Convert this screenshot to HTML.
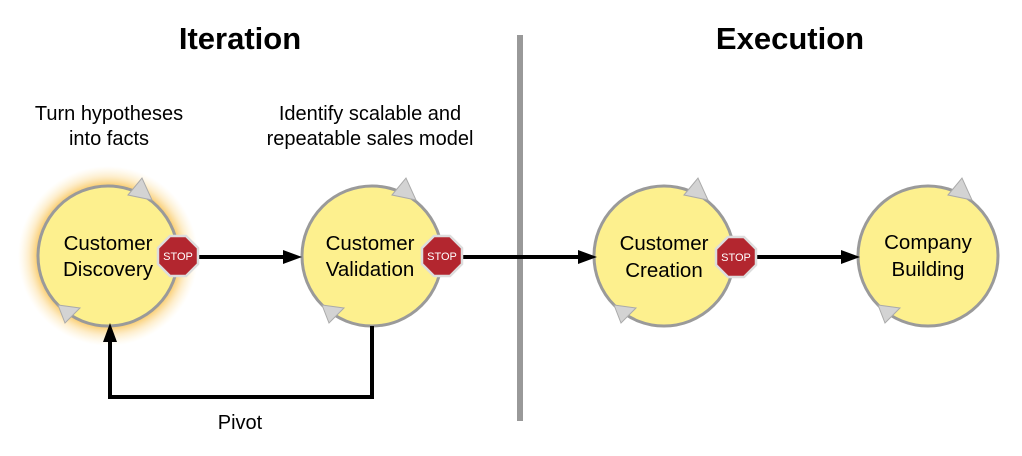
<!DOCTYPE html>
<html><head><meta charset="utf-8"><style>
html,body{margin:0;padding:0;background:#fff;width:1022px;height:456px;overflow:hidden}
text{font-family:"Liberation Sans",Arial,sans-serif}
</style></head><body>
<svg width="1022" height="456" viewBox="0 0 1022 456" xmlns="http://www.w3.org/2000/svg">
<defs>
<radialGradient id="glow" cx="0.5" cy="0.5" r="0.5">
<stop offset="0.76" stop-color="#f7b733" stop-opacity="0.85"/>
<stop offset="0.88" stop-color="#fbd27a" stop-opacity="0.4"/>
<stop offset="1" stop-color="#ffe8b0" stop-opacity="0"/>
</radialGradient>
<symbol id="node" overflow="visible">
<circle cx="0" cy="0" r="70" fill="#fdf08e" stroke="#9a9a9a" stroke-width="3"/>
<polygon points="20,-61 34,-78 44,-56" fill="#d3d3d3" stroke="#aaa" stroke-width="1"/>
<polygon points="-50,49 -43,67 -28,52" fill="#d3d3d3" stroke="#aaa" stroke-width="1"/>
</symbol>
<symbol id="stop" overflow="visible">
<polygon points="-8,-20 8,-20 20,-8 20,8 8,20 -8,20 -20,8 -20,-8" fill="#b3262f" stroke="#ddd" stroke-width="2.5"/>
<text x="0" y="4" font-size="11" fill="#fff" text-anchor="middle">STOP</text>
</symbol>
</defs>

<text x="240" y="49" font-size="31" font-weight="bold" text-anchor="middle">Iteration</text>
<text x="790" y="49" font-size="31" font-weight="bold" text-anchor="middle">Execution</text>
<text x="109" y="120" font-size="20" text-anchor="middle">Turn hypotheses</text>
<text x="109" y="145" font-size="20" text-anchor="middle">into facts</text>
<text x="370" y="120" font-size="20" text-anchor="middle">Identify scalable and</text>
<text x="370" y="145" font-size="20" text-anchor="middle">repeatable sales model</text>

<rect x="517" y="35" width="6" height="386" fill="#999"/>

<circle cx="108" cy="256" r="90" fill="url(#glow)"/>
<use href="#node" x="108" y="256"/>
<use href="#node" x="372" y="256"/>
<use href="#node" x="664" y="256"/>
<use href="#node" x="928" y="256"/>

<g stroke="#000" stroke-width="4" fill="none">
<line x1="198" y1="257" x2="285" y2="257"/>
<line x1="462" y1="257" x2="580" y2="257"/>
<line x1="756" y1="257" x2="843" y2="257"/>
<polyline points="372,326 372,397 110,397 110,340"/>
</g>
<polygon points="283,250 302,257 283,264" fill="#000"/>
<polygon points="578,250 597,257 578,264" fill="#000"/>
<polygon points="841,250 860,257 841,264" fill="#000"/>
<polygon points="103,342 110,323 117,342" fill="#000"/>

<use href="#stop" x="178" y="256"/>
<use href="#stop" x="442" y="256"/>
<use href="#stop" x="736" y="257"/>

<g font-size="20.5" text-anchor="middle">
<text x="108" y="250">Customer</text><text x="108" y="276">Discovery</text>
<text x="370" y="250">Customer</text><text x="370" y="276">Validation</text>
<text x="664" y="250">Customer</text><text x="664" y="277">Creation</text>
<text x="928" y="249">Company</text><text x="928" y="276">Building</text>
</g>
<text x="240" y="429" font-size="20" text-anchor="middle">Pivot</text>
</svg>
</body></html>
